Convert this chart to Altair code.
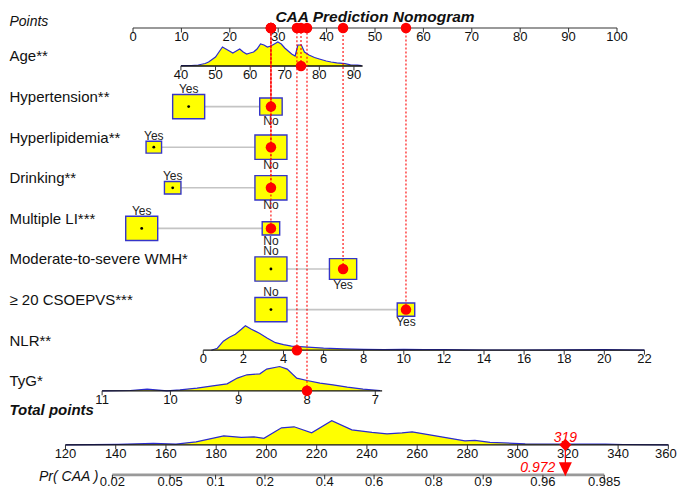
import math
import altair as alt
import pandas as pd

# ---------------- values ----------------
title_text = "CAA Prediction Nomogram"

points_ticks = [0, 10, 20, 30, 40, 50, 60, 70, 80, 90, 100]
age_ticks = [40, 50, 60, 70, 80, 90]
nlr_ticks = [0, 2, 4, 6, 8, 10, 12, 14, 16, 18, 20, 22]
tyg_ticks = [11, 10, 9, 8, 7]
total_ticks = [120, 140, 160, 180, 200, 220, 240, 260, 280, 300, 320, 340, 360]
pr_ticks = [0.02, 0.05, 0.1, 0.2, 0.4, 0.6, 0.8, 0.9, 0.96, 0.985]
pr_tick_labels = ["0.02", "0.05", "0.1", "0.2", "0.4", "0.6", "0.8", "0.9", "0.96", "0.985"]

age_grid = [40, 43, 45, 47, 48, 49, 50, 51, 52, 53, 54, 55, 56, 57, 58, 59, 60, 61, 62, 63, 64, 65,
            66, 67, 68, 69, 70, 71, 72, 73, 73.8, 74.8, 75.7, 77, 78.6, 80, 82, 83.4, 85, 87.4, 89, 90, 91, 92.2]
age_density = [0.3, 0.5, 1, 2.5, 4, 6.5, 9, 14, 19, 17, 15, 13, 15, 17, 14, 12, 13, 14, 17, 22, 21, 19,
               20, 22, 24, 22, 18, 15, 12, 10, 21, 21, 14, 11, 8.5, 7, 5, 4, 3.2, 2.3, 1.2, 1, 0.8, 0.3]

nlr_grid = [0.4, 0.7, 1.0, 1.3, 1.6, 1.9, 2.1, 2.4, 2.8, 3.2, 3.6, 4.0, 4.4, 5.0, 5.6, 6, 7, 8, 9, 10,
            11, 12, 13, 14, 16, 18, 20, 21, 22]
nlr_density = [0, 2, 9, 13, 16, 21, 24.5, 21, 17, 12, 7.5, 5.5, 4, 3.3, 2.6, 2, 1.3, 0.8, 0.6, 0.8,
               0.5, 0.7, 0.3, 0.2, 0.2, 0.3, 0.6, 0.3, 0]

tyg_grid = [11, 10.59, 10.34, 10.05, 9.86, 9.61, 9.38, 9.17, 9.02, 8.88, 8.69, 8.59, 8.40, 8.29, 8.15,
            8.0, 7.81, 7.62, 7.41, 7.18, 6.93]
tyg_density = [0, 0.3, 1.7, 0, 1, 2.7, 5, 7, 12.7, 16, 17, 21.7, 24.3, 21.7, 12.7, 10.3, 7.7, 6, 3.7, 1.7, 0.3]

total_grid = [120, 141, 155, 164, 172, 183, 190, 195, 199, 206, 211, 218, 226, 234, 242, 248, 254, 258,
              265, 272, 279, 283, 289, 303, 321, 335, 342, 360]
total_density = [0, 0.5, 1.5, 0.7, 3, 9, 7.5, 8, 6.5, 17, 18, 12, 24, 15, 12.5, 11, 12, 13,
                 10, 7, 4, 4.5, 2.5, 1, 0.8, 0.7, 0.3, 0]

cat_variable = ["Hypertension**", "Hypertension**", "Hyperlipidemia**", "Hyperlipidemia**",
                "Drinking**", "Drinking**", "Multiple LI***", "Multiple LI***",
                "Moderate-to-severe WMH*", "Moderate-to-severe WMH*", "≥ 20 CSOEPVS***", "≥ 20 CSOEPVS***"]
cat_level = ["Yes", "No", "Yes", "No", "Yes", "No", "Yes", "No", "No", "Yes", "No", "Yes"]
cat_points = [11.5, 28.5, 4.3, 28.5, 8.2, 28.5, 1.8, 28.5, 28.5, 43.4, 28.5, 56.4]
cat_share = [0.67, 0.33, 0.19, 0.81, 0.21, 0.79, 0.77, 0.23, 0.58, 0.42, 0.77, 0.23]

patient_levels = {"Hypertension**": "No", "Hyperlipidemia**": "No", "Drinking**": "No",
                  "Multiple LI***": "No", "Moderate-to-severe WMH*": "Yes", "≥ 20 CSOEPVS***": "Yes"}
patient_age = 74.7
patient_nlr = 4.67
patient_tyg = 8.0
patient_total = 319
patient_pr = 0.972

row_labels = ["Age**", "Hypertension**", "Hyperlipidemia**", "Drinking**", "Multiple LI***",
              "Moderate-to-severe WMH*", "≥ 20 CSOEPVS***", "NLR**", "TyG*"]

# ---------------- layout / nomogram scales ----------------
W, H = 669, 483
PX = 1 / 40.6  # one pixel in row units
ROW = {"Points": 0.064, "Age**": 1, "Hypertension**": 2, "Hyperlipidemia**": 3, "Drinking**": 4,
       "Multiple LI***": 5, "Moderate-to-severe WMH*": 6, "≥ 20 CSOEPVS***": 7, "NLR**": 8, "TyG*": 9,
       "Total": 10.33, "Pr": 11.07}
X_DOMAIN = [-125 / 4.84, (W - 125) / 4.84]
Y_DOMAIN = [(8 + H - 25.4) / 40.6, (8 - 25.4) / 40.6]


def age_pts(a):
    return 9.9 + 0.715 * (a - 40)


def nlr_pts(v):
    return 14.52 + 4.143 * v


def tyg_pts(v):
    return 35.95 - 14.11 * (v - 8)


def total_pos(t):
    return -13.95 + 0.519 * (t - 120)


def pr_pos(p):
    return total_pos((math.log(p / (1 - p)) + 9.612) / 0.04125)


def ident(v):
    return v


XS = alt.Scale(domain=X_DOMAIN, nice=False, zero=False)
YS = alt.Scale(domain=Y_DOMAIN, nice=False, zero=False)


def enc(x="x", y="y", x2=None, y2=None, **kw):
    e = dict(x=alt.X(f"{x}:Q", scale=XS, axis=None),
             y=alt.Y(f"{y}:Q", scale=YS, axis=None, stack=None))
    if x2:
        e["x2"] = alt.X2(f"{x2}:Q")
    if y2:
        e["y2"] = alt.Y2(f"{y2}:Q")
    e.update(kw)
    return e


FONT = "Liberation Sans"
BLUE = "#2a2ad0"
RED = "#ff0000"

# ---------------- densities ----------------
dens = []
for name, grid, dv, fn in [("Age**", age_grid, age_density, age_pts),
                           ("NLR**", nlr_grid, nlr_density, nlr_pts),
                           ("TyG*", tyg_grid, tyg_density, tyg_pts),
                           ("Total", total_grid, total_density, total_pos)]:
    for g, d in zip(grid, dv):
        dens.append({"var": name, "x": fn(g), "base": ROW[name], "top": ROW[name] - d * PX})
dens_df = pd.DataFrame(dens)

density = alt.Chart(dens_df).mark_area(
    color="#ffff00", opacity=1, orient="vertical", interpolate="linear",
    line={"color": BLUE, "strokeWidth": 1.2}
).encode(**enc("x", "top", y2="base"), detail="var:N")

# ---------------- axes ----------------
axes_spec = [("Points", 0, 100, ident, points_ticks, [str(t) for t in points_ticks]),
             ("Age**", 40, 92.5, age_pts, age_ticks, [str(t) for t in age_ticks]),
             ("NLR**", 0, 22, nlr_pts, nlr_ticks, [str(t) for t in nlr_ticks]),
             ("TyG*", 11, 6.9, tyg_pts, tyg_ticks, [str(t) for t in tyg_ticks]),
             ("Total", 120, 360, total_pos, total_ticks, [str(t) for t in total_ticks]),
             ("Pr", 0.02, 0.985, pr_pos, pr_ticks, pr_tick_labels)]
axis_lines, ticks = [], []
for name, a, b, fn, tv, tl in axes_spec:
    axis_lines.append({"var": name, "x": fn(a), "x2": fn(b), "y": ROW[name]})
    for v, lab in zip(tv, tl):
        ticks.append({"var": name, "x": fn(v), "y": ROW[name], "y2": ROW[name] + 4.5 * PX, "label": lab,
                      "last": name == "Total" and v == tv[-1]})
axis_df = pd.DataFrame(axis_lines)
tick_df = pd.DataFrame(ticks)

axis_black = alt.Chart(axis_df[~axis_df["var"].isin(["Points", "Pr"])]).mark_rule(
    color="#111111", strokeWidth=1.3).encode(**enc("x", "y", x2="x2"))
axis_pts = alt.Chart(axis_df[axis_df["var"] == "Points"]).mark_rule(
    color="#777777", strokeWidth=1.6).encode(**enc("x", "y", x2="x2"))
axis_pr = alt.Chart(axis_df[axis_df["var"] == "Pr"]).mark_rule(
    color="#999999", strokeWidth=2.6).encode(**enc("x", "y", x2="x2"))
tick_marks = alt.Chart(tick_df).mark_rule(color="#333333", strokeWidth=1).encode(**enc("x", "y", y2="y2"))
tick_text = alt.Chart(tick_df[(tick_df["var"] != "Pr") & (~tick_df["last"])]).mark_text(
    font=FONT, fontSize=13, dy=13, baseline="alphabetic", align="center", color="#111111"
).encode(**enc("x", "y"), text="label:N")
tick_text_end = alt.Chart(tick_df[tick_df["last"]]).mark_text(
    font=FONT, fontSize=13, dy=13, dx=-2.5, baseline="alphabetic", align="center", color="#111111"
).encode(**enc("x", "y"), text="label:N")
tick_text_pr = alt.Chart(tick_df[tick_df["var"] == "Pr"]).mark_text(
    font=FONT, fontSize=13, dy=11.5, baseline="alphabetic", align="center", color="#111111"
).encode(**enc("x", "y"), text="label:N")

# ---------------- categorical boxes ----------------
cat_df = pd.DataFrame({"var": cat_variable, "level": cat_level, "x": cat_points, "share": cat_share})
cat_df["y"] = cat_df["var"].map(ROW)
cat_df["size"] = 32 ** 2 * cat_df["share"] / cat_df.groupby("var")["share"].transform("max")
cat_df["h"] = 0.76 * cat_df["size"] ** 0.5
cat_df["selected"] = [patient_levels[v] == l for v, l in zip(cat_df["var"], cat_df["level"])]
cat_df["above"] = cat_df["x"] == cat_df.groupby("var")["x"].transform("min")
cat_df["ly"] = [r - (h / 2 + 1.5) * PX if ab else r + (h / 2 + 9.5) * PX
                for r, h, ab in zip(cat_df["y"], cat_df["h"], cat_df["above"])]

conn_df = cat_df.groupby("var").agg(x=("x", "min"), x2=("x", "max"), y=("y", "first")).reset_index()
connectors = alt.Chart(conn_df).mark_rule(color="#c4c4c4", strokeWidth=1.6).encode(**enc("x", "y", x2="x2"))

BOX = "M-1,-0.76L1,-0.76L1,0.76L-1,0.76Z"
boxes = alt.Chart(cat_df).mark_point(
    shape=BOX, filled=True, fill="#ffff00", stroke="#3535c8", strokeWidth=1.4, opacity=1,
    fillOpacity=1, strokeOpacity=1
).encode(**enc("x", "y"), size=alt.Size("size:Q", scale=None))
centers = alt.Chart(cat_df[~cat_df["selected"]]).mark_circle(size=8, color="#000000", opacity=1).encode(
    **enc("x", "y"))
level_text = alt.Chart(cat_df).mark_text(
    font=FONT, fontSize=12, baseline="alphabetic", align="center", color="#222222"
).encode(**enc("x", "ly"), text="level:N")

# ---------------- patient projection ----------------
proj = []
for v, l in patient_levels.items():
    p = cat_df[(cat_df["var"] == v) & (cat_df["level"] == l)]["x"].iloc[0]
    proj.append({"var": v, "x": p, "y": ROW[v]})
proj.append({"var": "Age**", "x": age_pts(patient_age), "y": ROW["Age**"]})
proj.append({"var": "NLR**", "x": nlr_pts(patient_nlr), "y": ROW["NLR**"]})
proj.append({"var": "TyG*", "x": tyg_pts(patient_tyg), "y": ROW["TyG*"]})
proj_df = pd.DataFrame(proj)
proj_df["top"] = ROW["Points"]

proj_lines = alt.Chart(proj_df).mark_rule(color=RED, strokeWidth=1.1, strokeDash=[2, 2]).encode(
    **enc("x", "y", y2="top"))
value_dots = alt.Chart(proj_df).mark_circle(size=110, color=RED, opacity=1).encode(**enc("x", "y"))
point_dots = alt.Chart(proj_df).mark_circle(size=110, color=RED, opacity=1).encode(**enc("x", "top"))

tot_df = pd.DataFrame({"x": [total_pos(patient_total)], "y": [ROW["Total"]],
                       "tri": [ROW["Pr"] - 5.6 * PX], "end": [ROW["Pr"] - 8 * PX],
                       "pry": [ROW["Pr"]],
                       "t_label": [str(patient_total)], "p_label": [f"{patient_pr:.3f}"]})
tot_line = alt.Chart(tot_df).mark_rule(color=RED, strokeWidth=1.2).encode(**enc("x", "y", y2="end"))
diamond = alt.Chart(tot_df).mark_point(shape="diamond", filled=True, color=RED, size=150, opacity=1).encode(
    **enc("x", "y"))
TRI = "M-1,-1.08L1,-1.08L0,1.08Z"
triangle = alt.Chart(tot_df).mark_point(shape=TRI, filled=True, color=RED, size=169, opacity=1).encode(
    **enc("x", "tri"))
t_label = alt.Chart(tot_df).mark_text(font=FONT, fontSize=14, fontStyle="italic", color=RED, dy=-2.5,
                                      baseline="alphabetic", align="center").encode(**enc("x", "y"), text="t_label:N")
p_label = alt.Chart(tot_df).mark_text(font=FONT, fontSize=14, fontStyle="italic", color=RED, dy=-3, dx=-10,
                                      baseline="alphabetic", align="right").encode(**enc("x", "pry"), text="p_label:N")

# ---------------- row labels & titles ----------------
lab_x = X_DOMAIN[0] + 0.3
lab_df = pd.DataFrame({"label": row_labels, "x": lab_x, "y": [ROW[r] for r in row_labels]})
row_text = alt.Chart(lab_df).mark_text(font=FONT, fontSize=15, dy=-4.6, baseline="alphabetic",
                                       align="left", color="#111111").encode(**enc("x", "y"), text="label:N")
pts_lab = alt.Chart(pd.DataFrame({"label": ["Points"], "x": [lab_x], "y": [ROW["Points"]]})).mark_text(
    font=FONT, fontSize=14, fontStyle="italic", dy=-2, baseline="alphabetic", align="left", color="#111111"
).encode(**enc("x", "y"), text="label:N")
tot_lab = alt.Chart(pd.DataFrame({"label": ["Total points"], "x": [lab_x], "y": [ROW["Total"]]})).mark_text(
    font=FONT, fontSize=15, fontStyle="italic", fontWeight="bold", dy=-29.6, baseline="alphabetic",
    align="left", color="#111111").encode(**enc("x", "y"), text="label:N")
pr_lab = alt.Chart(pd.DataFrame({"label": ["Pr( CAA )"], "x": [(39 - 133) / 4.84], "y": [ROW["Pr"]]})).mark_text(
    font=FONT, fontSize=14, fontStyle="italic", dy=6.4, baseline="alphabetic", align="left", color="#111111"
).encode(**enc("x", "y"), text="label:N")
title = alt.Chart(pd.DataFrame({"label": [title_text], "x": [50], "y": [ROW["Points"]]})).mark_text(
    font=FONT, fontSize=15.5, fontStyle="italic", fontWeight="bold", dy=-6, baseline="alphabetic",
    align="center", color="#111111").encode(**enc("x", "y"), text="label:N")

chart = alt.layer(
    density, axis_black, axis_pts, axis_pr, tick_marks, tick_text, tick_text_end, tick_text_pr,
    connectors, boxes, centers, level_text,
    proj_lines, value_dots, point_dots,
    tot_line, diamond, triangle, t_label, p_label,
    row_text, pts_lab, tot_lab, pr_lab, title
).properties(width=W, height=H, padding=0, autosize="none", background="white").configure_view(stroke=None)

chart.save("out.html", embed_options={"renderer": "svg", "actions": False})
